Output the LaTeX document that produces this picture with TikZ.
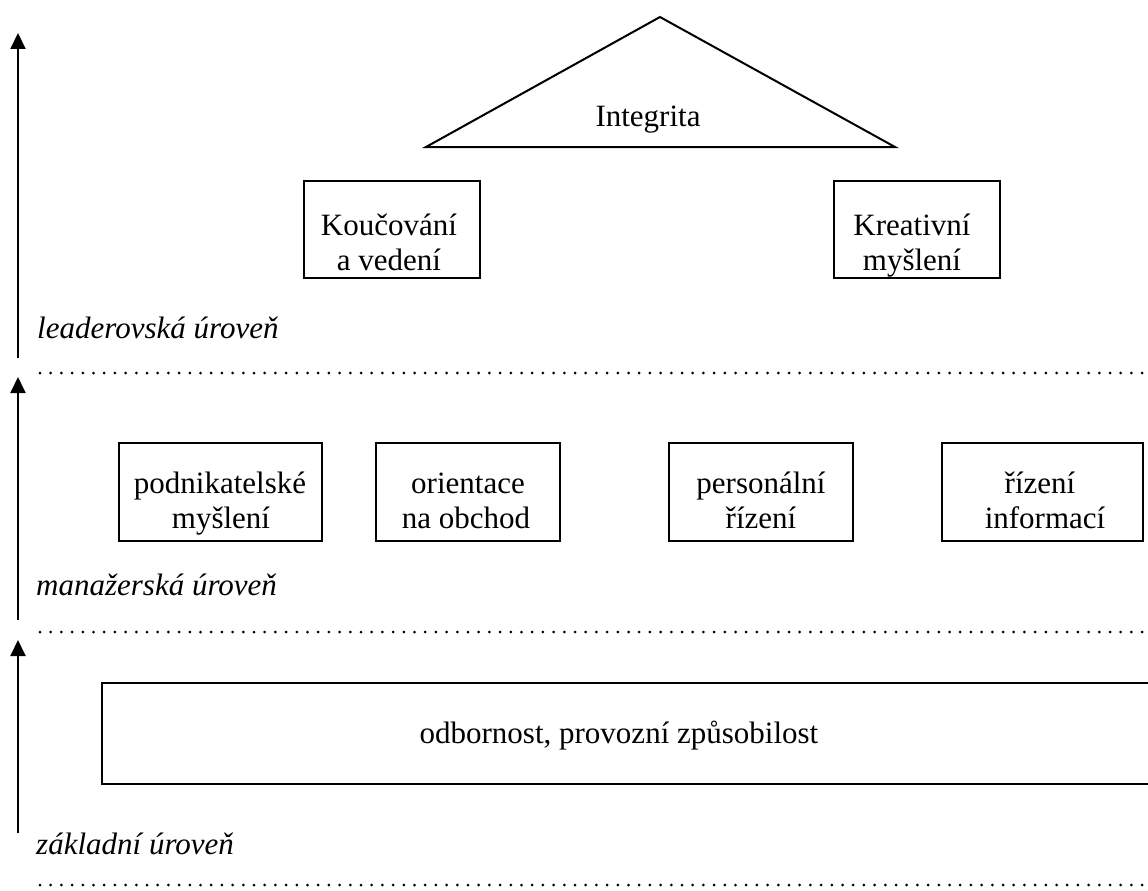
\documentclass[tikz,border=0pt]{standalone}
\usepackage{fontspec}
\setmainfont{Liberation Serif}
\usetikzlibrary{arrows.meta}
\begin{document}
\begin{tikzpicture}[x=1pt,y=-1pt,
  box/.style={draw, line width=2pt, inner sep=0pt},
  txt/.style={font=\fontsize{31}{35}\selectfont, inner sep=0pt, anchor=base},
  lvl/.style={font=\fontsize{31}{35}\selectfont\itshape, inner sep=0pt, anchor=base west},
  sep/.style={line width=3pt, line cap=round, dash pattern=on 0pt off 10.7pt},
  up/.style={line width=2pt, -{Triangle[length=16pt,width=15pt]}}]
\useasboundingbox (0,0) rectangle (1148,891);
\clip (0,0) rectangle (1148,891);

% arrows on the left
\coordinate (a1s) at (18,358); \coordinate (a1e) at (18,33);
\coordinate (a2s) at (18,620); \coordinate (a2e) at (18,377);
\coordinate (a3s) at (18,833); \coordinate (a3e) at (18,640);
\draw[up] (a1s) -- (a1e);
\draw[up] (a2s) -- (a2e);
\draw[up] (a3s) -- (a3e);

% dotted separators
\coordinate (d1a) at (40,373); \coordinate (d1b) at (1148,373);
\coordinate (d2a) at (40,632); \coordinate (d2b) at (1148,632);
\coordinate (d3a) at (40,885); \coordinate (d3b) at (1148,885);
\draw[sep] (d1a) -- (d1b);
\draw[sep] (d2a) -- (d2b);
\draw[sep] (d3a) -- (d3b);

% level labels
\node[lvl] (lv1) at (37,338) {leaderovská úroveň};
\node[lvl] (lv2) at (36,595) {manažerská úroveň};
\node[lvl] (lv3) at (36,854) {základní úroveň};

% triangle
\coordinate (apex) at (660,17);
\coordinate (tl) at (426,147);
\coordinate (tr) at (895,147);
\draw[line width=2pt, line join=miter] (tl) -- (apex) -- (tr) -- cycle;
\node[txt] (integ) at (648,126) {Integrita};

% top boxes
\node[box, minimum width=176pt, minimum height=97pt] (kb) at (392,229.5) {};
\node[txt] (kt1) at (389,235) {Koučování};
\node[txt] (kt2) at (389,270) {a vedení};
\node[box, minimum width=166pt, minimum height=97pt] (krb) at (917,229.5) {};
\node[txt] (krt1) at (912,235) {Kreativní};
\node[txt] (krt2) at (912,270) {myšlení};

% middle boxes
\node[box, minimum width=203pt, minimum height=98pt] (pb) at (220.5,492) {};
\node[txt] (pt1) at (220,493) {podnikatelské};
\node[txt] (pt2) at (221,528) {myšlení};
\node[box, minimum width=184pt, minimum height=98pt] (ob) at (468,492) {};
\node[txt] (ot1) at (468,493) {orientace};
\node[txt] (ot2) at (466,528) {na obchod};
\node[box, minimum width=184pt, minimum height=98pt] (prb) at (761,492) {};
\node[txt] (prt1) at (761,493) {personální};
\node[txt] (prt2) at (761,528) {řízení};
\node[box, minimum width=201pt, minimum height=98pt] (rib) at (1042.5,492) {};
\node[txt] (rit1) at (1040,493) {řízení};
\node[txt] (rit2) at (1045,528) {informací};

% bottom box
\node[box, minimum width=1058pt, minimum height=101pt] (bb) at (631,733.5) {};
\node[txt] (bt) at (619,743) {odbornost, provozní způsobilost};
\end{tikzpicture}
\end{document}
